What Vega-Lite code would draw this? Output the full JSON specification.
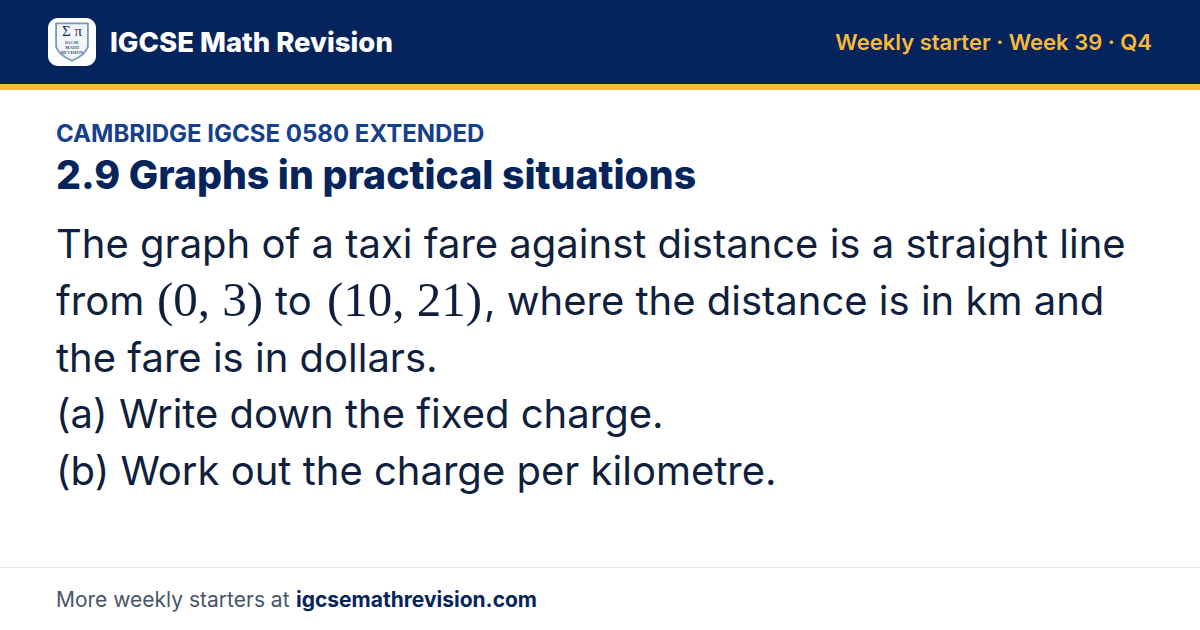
{
  "$schema": "https://vega.github.io/schema/vega-lite/v6.json",
  "description": "IGCSE weekly starter card, week 39 question 4",
  "width": 1200,
  "height": 630,
  "padding": 0,
  "autosize": "none",
  "background": "#ffffff",
  "config": {"view": {"stroke": null}, "text": {"font": "Inter", "align": "left", "baseline": "alphabetic"}},
  "data": {
    "values": [
      {"part": "band", "col": "a", "line": "a"},
      {"part": "accent", "col": "a", "line": "a"},
      {"part": "rule", "col": "a", "line": "a"},
      {"part": "tile", "col": "a", "line": "a"},
      {"part": "crest", "col": "a", "line": "a"},
      {"part": "crest_sym", "col": "a", "line": "a", "text": "Σ π"},
      {"part": "crest_txt", "col": "a", "line": "a", "text": "IGCSE"},
      {"part": "crest_txt", "col": "a", "line": "b", "text": "MATH"},
      {"part": "crest_txt", "col": "a", "line": "c", "text": "REVISION"},
      {"part": "brand", "col": "a", "line": "a", "text": "IGCSE Math Revision"},
      {"part": "tag", "col": "a", "line": "a", "text": "Weekly starter · Week 39 · Q4"},
      {"part": "eyebrow", "col": "a", "line": "a", "text": "CAMBRIDGE IGCSE 0580 EXTENDED"},
      {"part": "title", "col": "a", "line": "a", "text": "2.9 Graphs in practical situations"},
      {"part": "body", "col": "a", "line": "l1", "text": "The graph of a taxi fare against distance is a straight line"},
      {"part": "body", "col": "a", "line": "l2", "text": "from"},
      {"part": "body", "col": "a", "line": "l3", "text": "the fare is in dollars."},
      {"part": "body", "col": "a", "line": "l4", "text": "(a) Write down the fixed charge."},
      {"part": "body", "col": "a", "line": "l5", "text": "(b) Work out the charge per kilometre."},
      {"part": "math", "col": "a", "line": "a", "text": "(0, 3)"},
      {"part": "math", "col": "b", "line": "a", "text": "(10, 21)"},
      {"part": "inline", "col": "a", "line": "a", "text": "to"},
      {"part": "inline", "col": "b", "line": "a", "text": ", where the distance is in km and"},
      {"part": "foot", "col": "a", "line": "a", "text": "More weekly starters at"},
      {"part": "foot_link", "col": "a", "line": "a", "text": "igcsemathrevision.com"}
    ]
  },
  "resolve": {"scale": {"x": "independent", "y": "independent"}},
  "layer": [
    {
      "transform": [{"filter": "datum.part == 'band'"}],
      "mark": {"type": "rect", "color": "#04245b"},
      "encoding": {
        "x": {"field": "col", "type": "nominal", "axis": null, "scale": {"type": "band", "domain": ["a"], "range": [0, 1200], "padding": 0}},
        "y": {"field": "line", "type": "nominal", "axis": null, "scale": {"type": "band", "domain": ["a"], "range": [0, 84], "padding": 0}}
      }
    },
    {
      "transform": [{"filter": "datum.part == 'accent'"}],
      "mark": {"type": "rect", "color": "#f6b93b"},
      "encoding": {
        "x": {"field": "col", "type": "nominal", "axis": null, "scale": {"type": "band", "domain": ["a"], "range": [0, 1200], "padding": 0}},
        "y": {"field": "line", "type": "nominal", "axis": null, "scale": {"type": "band", "domain": ["a"], "range": [84, 90], "padding": 0}}
      }
    },
    {
      "transform": [{"filter": "datum.part == 'rule'"}],
      "mark": {"type": "rect", "color": "#e3e6ea"},
      "encoding": {
        "x": {"field": "col", "type": "nominal", "axis": null, "scale": {"type": "band", "domain": ["a"], "range": [0, 1200], "padding": 0}},
        "y": {"field": "line", "type": "nominal", "axis": null, "scale": {"type": "band", "domain": ["a"], "range": [567, 568], "padding": 0}}
      }
    },
    {
      "transform": [{"filter": "datum.part == 'tile'"}],
      "mark": {"type": "rect", "color": "#ffffff", "cornerRadius": 10},
      "encoding": {
        "x": {"field": "col", "type": "nominal", "axis": null, "scale": {"type": "band", "domain": ["a"], "range": [48, 96], "padding": 0}},
        "y": {"field": "line", "type": "nominal", "axis": null, "scale": {"type": "band", "domain": ["a"], "range": [18, 66], "padding": 0}}
      }
    },
    {
      "transform": [{"filter": "datum.part == 'crest'"}],
      "mark": {"type": "point", "shape": "M-0.85,-1 L0.85,-1 L0.85,0.25 Q0.7,0.7 0,1 Q-0.7,0.7 -0.85,0.25 Z", "filled": true, "fill": "#eef2f7", "stroke": "#3f6c9c", "strokeWidth": 1.8, "size": 1400},
      "encoding": {
        "x": {"field": "col", "type": "nominal", "axis": null, "scale": {"domain": ["a"], "range": [72, 72], "padding": 0}},
        "y": {"field": "line", "type": "nominal", "axis": null, "scale": {"domain": ["a"], "range": [42, 42], "padding": 0}}
      }
    },
    {
      "transform": [{"filter": "datum.part == 'crest_sym'"}],
      "mark": {"type": "text", "font": "Liberation Serif", "fontSize": 15, "color": "#16305c", "align": "center"},
      "encoding": {
        "x": {"field": "col", "type": "nominal", "axis": null, "scale": {"domain": ["a"], "range": [72, 72], "padding": 0}},
        "y": {"field": "line", "type": "nominal", "axis": null, "scale": {"domain": ["a"], "range": [36, 36], "padding": 0}},
        "text": {"field": "text"}
      }
    },
    {
      "transform": [{"filter": "datum.part == 'crest_txt'"}],
      "mark": {"type": "text", "font": "Liberation Serif", "fontSize": 4.5, "fontWeight": 700, "color": "#34527a", "align": "center"},
      "encoding": {
        "x": {"field": "col", "type": "nominal", "axis": null, "scale": {"domain": ["a"], "range": [72, 72], "padding": 0}},
        "y": {"field": "line", "type": "nominal", "axis": null, "scale": {"domain": ["a", "b", "c"], "range": [44, 54], "padding": 0}},
        "text": {"field": "text"}
      }
    },
    {
      "transform": [{"filter": "datum.part == 'brand'"}],
      "mark": {"type": "text", "fontSize": 27.5, "fontWeight": 800, "color": "#ffffff"},
      "encoding": {
        "x": {"field": "col", "type": "nominal", "axis": null, "scale": {"domain": ["a"], "range": [110, 110], "padding": 0}},
        "y": {"field": "line", "type": "nominal", "axis": null, "scale": {"domain": ["a"], "range": [52, 52], "padding": 0}},
        "text": {"field": "text"}
      }
    },
    {
      "transform": [{"filter": "datum.part == 'tag'"}],
      "mark": {"type": "text", "fontSize": 22, "fontWeight": 600, "color": "#f6b93b", "align": "right"},
      "encoding": {
        "x": {"field": "col", "type": "nominal", "axis": null, "scale": {"domain": ["a"], "range": [1152, 1152], "padding": 0}},
        "y": {"field": "line", "type": "nominal", "axis": null, "scale": {"domain": ["a"], "range": [50, 50], "padding": 0}},
        "text": {"field": "text"}
      }
    },
    {
      "transform": [{"filter": "datum.part == 'eyebrow'"}],
      "mark": {"type": "text", "fontSize": 24, "fontWeight": 700, "color": "#163f8c"},
      "encoding": {
        "x": {"field": "col", "type": "nominal", "axis": null, "scale": {"domain": ["a"], "range": [56, 56], "padding": 0}},
        "y": {"field": "line", "type": "nominal", "axis": null, "scale": {"domain": ["a"], "range": [142, 142], "padding": 0}},
        "text": {"field": "text"}
      }
    },
    {
      "transform": [{"filter": "datum.part == 'title'"}],
      "mark": {"type": "text", "fontSize": 39.2, "fontWeight": 800, "color": "#04245b"},
      "encoding": {
        "x": {"field": "col", "type": "nominal", "axis": null, "scale": {"domain": ["a"], "range": [56, 56], "padding": 0}},
        "y": {"field": "line", "type": "nominal", "axis": null, "scale": {"domain": ["a"], "range": [189, 189], "padding": 0}},
        "text": {"field": "text"}
      }
    },
    {
      "transform": [{"filter": "datum.part == 'body'"}],
      "mark": {"type": "text", "fontSize": 40, "color": "#0f1f3d"},
      "encoding": {
        "x": {"field": "col", "type": "nominal", "axis": null, "scale": {"domain": ["a"], "range": [56, 56], "padding": 0}},
        "y": {"field": "line", "type": "nominal", "axis": null, "scale": {"domain": ["l1", "l2", "l3", "l4", "l5"], "range": [258, 485], "padding": 0}},
        "text": {"field": "text"}
      }
    },
    {
      "transform": [{"filter": "datum.part == 'math'"}],
      "mark": {"type": "text", "font": "Liberation Serif", "fontSize": 49, "color": "#0f1f3d"},
      "encoding": {
        "x": {"field": "col", "type": "nominal", "axis": null, "scale": {"domain": ["a", "b"], "range": [157, 327], "padding": 0}},
        "y": {"field": "line", "type": "nominal", "axis": null, "scale": {"domain": ["a"], "range": [316, 316], "padding": 0}},
        "text": {"field": "text"}
      }
    },
    {
      "transform": [{"filter": "datum.part == 'inline'"}],
      "mark": {"type": "text", "fontSize": 40, "color": "#0f1f3d"},
      "encoding": {
        "x": {"field": "col", "type": "nominal", "axis": null, "scale": {"domain": ["a", "b"], "range": [275, 484], "padding": 0}},
        "y": {"field": "line", "type": "nominal", "axis": null, "scale": {"domain": ["a"], "range": [315, 315], "padding": 0}},
        "text": {"field": "text"}
      }
    },
    {
      "transform": [{"filter": "datum.part == 'foot'"}],
      "mark": {"type": "text", "fontSize": 21, "color": "#475569"},
      "encoding": {
        "x": {"field": "col", "type": "nominal", "axis": null, "scale": {"domain": ["a"], "range": [56, 56], "padding": 0}},
        "y": {"field": "line", "type": "nominal", "axis": null, "scale": {"domain": ["a"], "range": [607, 607], "padding": 0}},
        "text": {"field": "text"}
      }
    },
    {
      "transform": [{"filter": "datum.part == 'foot_link'"}],
      "mark": {"type": "text", "fontSize": 21, "fontWeight": 700, "color": "#04245b"},
      "encoding": {
        "x": {"field": "col", "type": "nominal", "axis": null, "scale": {"domain": ["a"], "range": [296, 296], "padding": 0}},
        "y": {"field": "line", "type": "nominal", "axis": null, "scale": {"domain": ["a"], "range": [607, 607], "padding": 0}},
        "text": {"field": "text"}
      }
    }
  ]
}
